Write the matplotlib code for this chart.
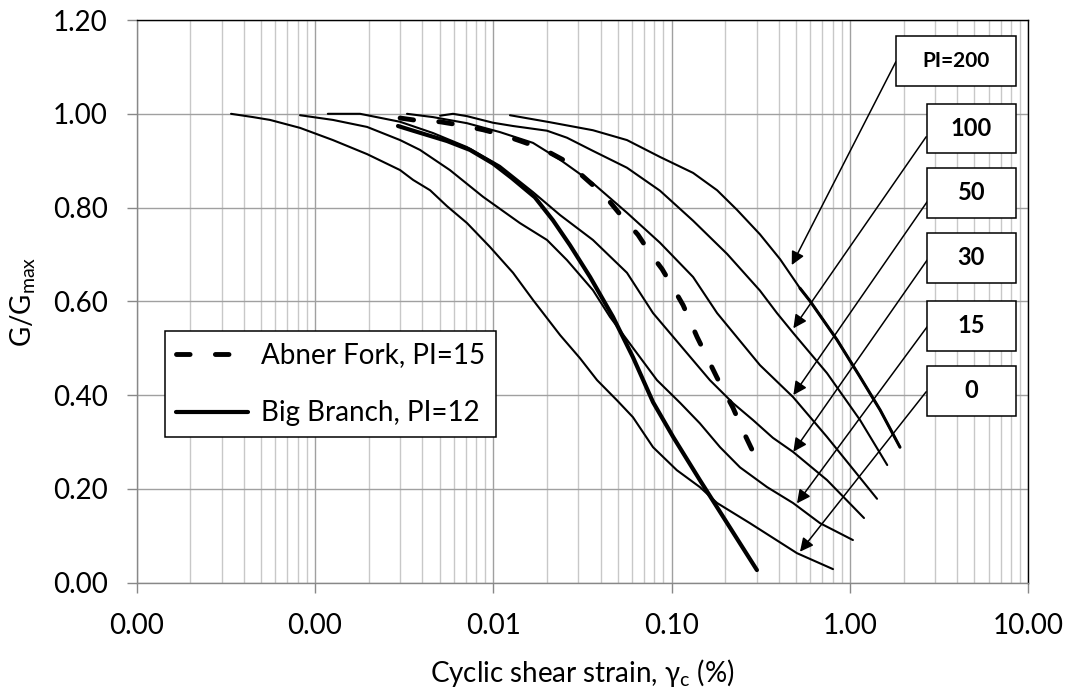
import numpy as np
import matplotlib
matplotlib.use('Agg')
from matplotlib import pyplot as plt
from matplotlib.patches import Rectangle
from matplotlib.ticker import LogLocator, FormatStrFormatter, NullFormatter, MultipleLocator

plt.rcParams['font.family'] = ['Lato', 'DejaVu Sans']
plt.rcParams['font.size'] = 20

# Vucetic & Dobry style reference curves, G/Gmax vs cyclic shear strain (%)
pi0_strain = [0.000338, 0.000449, 0.000559, 0.000824, 0.00126, 0.00196, 0.00300, 0.00355, 0.00442,
              0.00550, 0.00712, 0.00958, 0.0129, 0.0167, 0.0237, 0.0306, 0.0382, 0.0494, 0.0607,
              0.0787, 0.107, 0.144, 0.180, 0.275, 0.505, 0.804]
pi0_ratio = [1.000, 0.993, 0.987, 0.970, 0.944, 0.914, 0.880, 0.859, 0.837,
             0.803, 0.767, 0.716, 0.661, 0.603, 0.528, 0.479, 0.432, 0.389, 0.353,
             0.289, 0.240, 0.204, 0.170, 0.127, 0.063, 0.029]

pi15_strain = [0.000824, 0.00126, 0.00196, 0.00300, 0.00388, 0.00571, 0.00876, 0.0141, 0.0200,
               0.0259, 0.0362, 0.0451, 0.0828, 0.112, 0.144, 0.187, 0.242, 0.343, 0.480, 0.680, 1.04]
pi15_ratio = [0.997, 0.987, 0.972, 0.944, 0.923, 0.880, 0.823, 0.767, 0.731,
              0.688, 0.624, 0.567, 0.432, 0.383, 0.340, 0.289, 0.246, 0.204, 0.170, 0.127, 0.091]

pi30_strain = [0.00118, 0.00179, 0.00300, 0.00459, 0.00712, 0.0109, 0.0167, 0.0237, 0.0362,
               0.0562, 0.0787, 0.164, 0.221, 0.286, 0.370, 0.480, 0.744, 1.20]
pi30_ratio = [1.000, 1.000, 0.983, 0.959, 0.929, 0.889, 0.833, 0.784, 0.731,
              0.661, 0.575, 0.432, 0.383, 0.347, 0.309, 0.279, 0.219, 0.138]

pi50_strain = [0.00328, 0.00459, 0.00712, 0.0109, 0.0167, 0.0237, 0.0362, 0.0562, 0.0861,
               0.132, 0.180, 0.313, 0.480, 0.744, 1.42]
pi50_ratio = [1.000, 0.993, 0.980, 0.961, 0.938, 0.902, 0.852, 0.789, 0.725,
              0.652, 0.575, 0.464, 0.396, 0.311, 0.179]

pi100_strain = [0.00503, 0.00594, 0.00712, 0.00996, 0.0129, 0.0200, 0.0259, 0.0362, 0.0562,
                0.0861, 0.132, 0.205, 0.313, 0.390, 0.480, 0.744, 1.14, 1.62]
pi100_ratio = [0.996, 1.000, 0.995, 0.981, 0.974, 0.964, 0.949, 0.921, 0.885,
               0.836, 0.772, 0.701, 0.623, 0.575, 0.533, 0.447, 0.347, 0.251]

pi200_strain = [0.0124, 0.0208, 0.0362, 0.0562, 0.0861, 0.132, 0.180, 0.233, 0.313,
                0.406, 0.525, 0.597, 0.847, 1.14, 1.48, 1.91]
pi200_ratio = [0.997, 0.982, 0.965, 0.944, 0.908, 0.874, 0.837, 0.795, 0.743,
               0.690, 0.628, 0.601, 0.518, 0.439, 0.368, 0.289]

# site curves
abner_strain = [0.00300, 0.00388, 0.00503, 0.00651, 0.00876, 0.0113, 0.0147, 0.0190, 0.0246,
                0.0299, 0.0372, 0.0451, 0.0534, 0.0648, 0.0757, 0.0884, 0.102, 0.116, 0.139,
                0.180, 0.221, 0.258, 0.301]
abner_ratio = [0.991, 0.985, 0.983, 0.976, 0.966, 0.955, 0.940, 0.925, 0.902,
               0.876, 0.844, 0.812, 0.778, 0.742, 0.703, 0.669, 0.629, 0.592, 0.524,
               0.437, 0.373, 0.315, 0.262]

branch_strain = [0.00292, 0.00355, 0.00550, 0.00740, 0.00996, 0.0127, 0.0171, 0.0216, 0.0269,
                 0.0349, 0.0469, 0.0607, 0.0787, 0.102, 0.144, 0.205, 0.301]
branch_ratio = [0.974, 0.964, 0.942, 0.923, 0.894, 0.863, 0.822, 0.773, 0.720,
                0.652, 0.567, 0.481, 0.385, 0.311, 0.219, 0.127, 0.027]

pi_labels = ['PI=200', '100', '50', '30', '15', '0']

# label boxes (axes fraction): left, bottom, width; arrow start; arrow tip in data coords
box_left = [0.8516, 0.8861, 0.8861, 0.8861, 0.8861, 0.8861]
box_bottom = [0.8832, 0.7636, 0.6487, 0.5331, 0.4123, 0.2968]
box_width = [0.135, 0.1004, 0.1004, 0.1004, 0.1004, 0.1004]
box_height = 0.088
arrow_start = [(0.8516, 0.9259), (0.8856, 0.7926), (0.8867, 0.6771),
               (0.8867, 0.5735), (0.8867, 0.4549), (0.8856, 0.3394)]
arrow_tip = [(0.472, 0.6775), (0.482, 0.5425), (0.482, 0.4003),
             (0.482, 0.2794), (0.505, 0.1693), (0.525, 0.0661)]


def main() -> None:
    fig = plt.figure(figsize=(10.7, 6.91), dpi=100)
    ax = fig.add_axes([0.1278, 0.1567, 0.8331, 0.8143])

    ax.set_xscale('log')
    ax.set_xlim(1e-4, 10)
    ax.set_ylim(0, 1.2)

    thin = dict(color='black', lw=1.5, solid_capstyle='round', solid_joinstyle='round', zorder=3)
    for xs, ys in [(pi0_strain, pi0_ratio), (pi15_strain, pi15_ratio), (pi30_strain, pi30_ratio),
                   (pi50_strain, pi50_ratio), (pi100_strain, pi100_ratio)]:
        ax.plot(xs, ys, **thin)
    ax.plot(pi200_strain, pi200_ratio, **thin)
    tail = np.array(pi200_strain) >= 0.5
    ax.plot(np.array(pi200_strain)[tail], np.array(pi200_ratio)[tail],
            color='black', lw=2.2, solid_capstyle='round', zorder=3)

    dashed, = ax.plot(abner_strain, abner_ratio, color='black', lw=3.5, zorder=4,
                      dash_capstyle='round', label='Abner Fork, PI=15')
    dashed.set_dashes([2.8, 5.2])
    ax.plot(branch_strain, branch_ratio, color='black', lw=3.0, zorder=4,
            solid_capstyle='round', solid_joinstyle='round', label='Big Branch, PI=12')

    ax.yaxis.set_major_locator(MultipleLocator(0.2))
    ax.yaxis.set_major_formatter(FormatStrFormatter('%.2f'))
    ax.xaxis.set_major_locator(LogLocator(base=10, numticks=10))
    ax.xaxis.set_major_formatter(FormatStrFormatter('%.2f'))
    ax.xaxis.set_minor_locator(LogLocator(base=10, subs=np.arange(2, 10), numticks=30))
    ax.xaxis.set_minor_formatter(NullFormatter())

    ax.grid(which='major', color='#a0a0a0', lw=1.0)
    ax.grid(which='minor', axis='x', color='#c8c8c8', lw=1.0)
    ax.set_axisbelow(True)
    ax.tick_params(which='major', direction='out', length=7, width=1.0, color='#888888')
    ax.tick_params(axis='y', pad=14)
    ax.tick_params(axis='x', pad=15)
    ax.tick_params(which='minor', length=0)
    for side in ['left', 'bottom']:
        ax.spines[side].set_color('#888888')
        ax.spines[side].set_linewidth(1.0)
    for side in ['top', 'right']:
        ax.spines[side].set_color('black')
        ax.spines[side].set_linewidth(1.0)

    ax.set_xlabel('Cyclic shear strain, γ$_\\mathregular{c}$ (%)')
    ax.xaxis.set_label_coords(0.5, -0.16)
    ax.xaxis.label.set_verticalalignment('center')
    ax.set_ylabel('G/G$_\\mathregular{max}$')
    ax.yaxis.set_label_coords(-0.128, 0.5)
    ax.yaxis.label.set_verticalalignment('center')

    leg = ax.legend(loc='upper left', bbox_to_anchor=(0.0318, 0.447), borderaxespad=0,
                    fancybox=False, edgecolor='black', framealpha=1, handlelength=2.6,
                    handletextpad=0.45, borderpad=0.4, labelspacing=1.15, fontsize=20)
    leg.get_frame().set_linewidth(1.1)
    leg.set_zorder(6)

    for i, label in enumerate(pi_labels):
        ax.add_patch(Rectangle((box_left[i], box_bottom[i]), box_width[i], box_height,
                               transform=ax.transAxes, facecolor='white', edgecolor='black',
                               lw=1.1, zorder=6))
        ax.text(box_left[i] + box_width[i] / 2, box_bottom[i] + box_height / 2, label,
                transform=ax.transAxes, ha='center', va='center', fontweight='bold',
                fontsize=15 if i == 0 else 17, zorder=7)
        ax.annotate('', xy=arrow_tip[i], xycoords='data',
                    xytext=arrow_start[i], textcoords='axes fraction',
                    arrowprops=dict(arrowstyle='-|>', color='black', lw=1.1,
                                    shrinkA=0, shrinkB=0, mutation_scale=20),
                    zorder=5)

    plt.savefig('out.png', dpi=100)


if __name__ == '__main__':
    main()
